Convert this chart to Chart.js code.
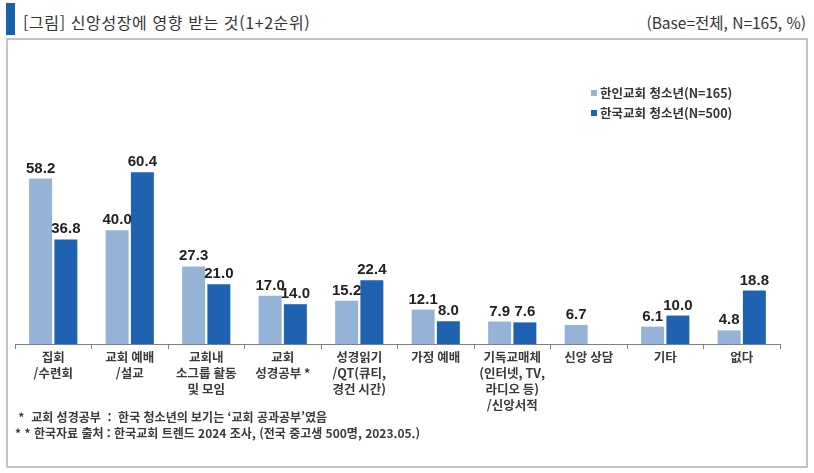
<!DOCTYPE html>
<html lang="ko">
<head>
<meta charset="utf-8">
<script src="https://cdn.jsdelivr.net/npm/chart.js@4.4.1/dist/chart.umd.min.js"></script>
<style>
  html, body { margin: 0; padding: 0; background: #fff; }
  #wrap { position: relative; width: 814px; height: 473px; overflow: hidden; font-family: "Noto Sans CJK KR", "Noto Sans", sans-serif; color: #333; }
  #bar { position: absolute; left: 6px; top: 3px; width: 9px; height: 32px; background: #1a5faa; }
  #title { position: absolute; left: 23px; top: 9px; font-size: 16px; letter-spacing: 0.6px; line-height: 26px; white-space: nowrap; }
  #base { position: absolute; right: 8px; top: 9px; font-size: 15.5px; line-height: 26px; white-space: nowrap; }
  #box { position: absolute; left: 6px; top: 38px; width: 798px; height: 426px; border: 2px solid #c4c4c4; }
  #chart { position: absolute; left: 0; top: 0; }
  #legend { position: absolute; left: 591px; top: 83px; font-size: 12.5px; font-weight: bold; color: #333; }
  #legend div { height: 20px; line-height: 20px; white-space: nowrap; }
  #legend span.sw { display: inline-block; width: 6px; height: 6px; margin-right: 3px; vertical-align: 2px; }
  #notes { position: absolute; left: 15px; top: 409px; font-size: 12px; font-weight: bold; line-height: 16px; color: #3a3a3a; white-space: nowrap; }
</style>
</head>
<body>
<div id="wrap">
  <div id="bar"></div>
  <div id="title">[그림] 신앙성장에 영향 받는 것(1+2순위)</div>
  <div id="base">(Base=전체, N=165, %)</div>
  <div id="box"></div>
  <canvas id="chart" width="814" height="473"></canvas>
  <div id="legend"></div>
  <div id="notes">
    <div>&nbsp;*&nbsp; 교회 성경공부 &nbsp;:&nbsp; 한국 청소년의 보기는 ‘교회 공과공부’였음</div>
    <div>* * 한국자료 출처 : 한국교회 트렌드 2024 조사, (전국 중고생 500명, 2023.05.)</div>
  </div>
</div>
<script>
// 항목 (여러 줄 라벨)
const categories = [
    ['집회', '/수련회'],
    ['교회 예배', '/설교'],
    ['교회내', '소그룹 활동', '및 모임'],
    ['교회', '성경공부 *'],
    ['성경읽기', '/QT(큐티,', '경건 시간)'],
    ['가정 예배'],
    ['기독교매체', '(인터넷, TV,', '라디오 등)', '/신앙서적'],
    ['신앙 상담'],
    ['기타'],
    ['없다']
];
const seriesNames = ['한인교회 청소년(N=165)', '한국교회 청소년(N=500)'];
const koreanAmericanYouth = [58.2, 40.0, 27.3, 17.0, 15.2, 12.1, 7.9, 6.7, 6.1, 4.8];
const koreanYouth = [36.8, 60.4, 21.0, 14.0, 22.4, 8.0, 7.6, null, 10.0, 18.8];
const seriesColors = ['#95b3d7', '#1f62b0'];

// 막대 위 값 표시
const valueLabels = {
    id: 'valueLabels',
    afterDatasetsDraw(chart) {
        const ctx = chart.ctx;
        ctx.save();
        ctx.font = 'bold 15px "Liberation Sans", Arial, sans-serif';
        ctx.fillStyle = '#222';
        ctx.textAlign = 'center';
        ctx.textBaseline = 'alphabetic';
        chart.data.datasets.forEach((ds, i) => {
            chart.getDatasetMeta(i).data.forEach((bar, j) => {
                const v = ds.data[j];
                if (v === null || v === undefined) return;
                ctx.fillText(v.toFixed(1), bar.x, bar.y - 6);
            });
        });
        ctx.restore();
    }
};

document.addEventListener('DOMContentLoaded', function() {
    const ctx = document.getElementById('chart').getContext('2d');
    new Chart(ctx, {
        type: 'bar',
        data: {
            labels: categories,
            datasets: [{
                label: seriesNames[0],
                data: koreanAmericanYouth,
                backgroundColor: seriesColors[0]
            }, {
                label: seriesNames[1],
                data: koreanYouth,
                backgroundColor: seriesColors[1]
            }]
        },
        options: {
            responsive: false,
            animation: false,
            categoryPercentage: 0.66,
            barPercentage: 0.91,
            layout: { padding: { left: 15, right: 34, top: 145, bottom: 0 } },
            plugins: {
                legend: { display: false },
                tooltip: { enabled: false }
            },
            scales: {
                x: {
                    grid: { drawOnChartArea: false, drawTicks: true, tickLength: 5, color: '#808080' },
                    border: { display: true, color: '#808080', width: 1 },
                    ticks: {
                        autoSkip: false,
                        maxRotation: 0,
                        padding: 0,
                        color: '#3a3a3a',
                        font: { family: '"Noto Sans CJK KR", sans-serif', size: 12.5, weight: 'bold', lineHeight: '16px' }
                    },
                    afterFit: function(scale) { scale.height = 129; }
                },
                y: { display: false, min: 0, max: 70 }
            }
        },
        plugins: [valueLabels]
    });

    // 범례
    const legend = document.getElementById('legend');
    seriesNames.forEach((name, i) => {
        const row = document.createElement('div');
        row.innerHTML = '<span class="sw" style="background:' + seriesColors[i] + '"></span>' + name;
        legend.appendChild(row);
    });
});
</script>
</body>
</html>
